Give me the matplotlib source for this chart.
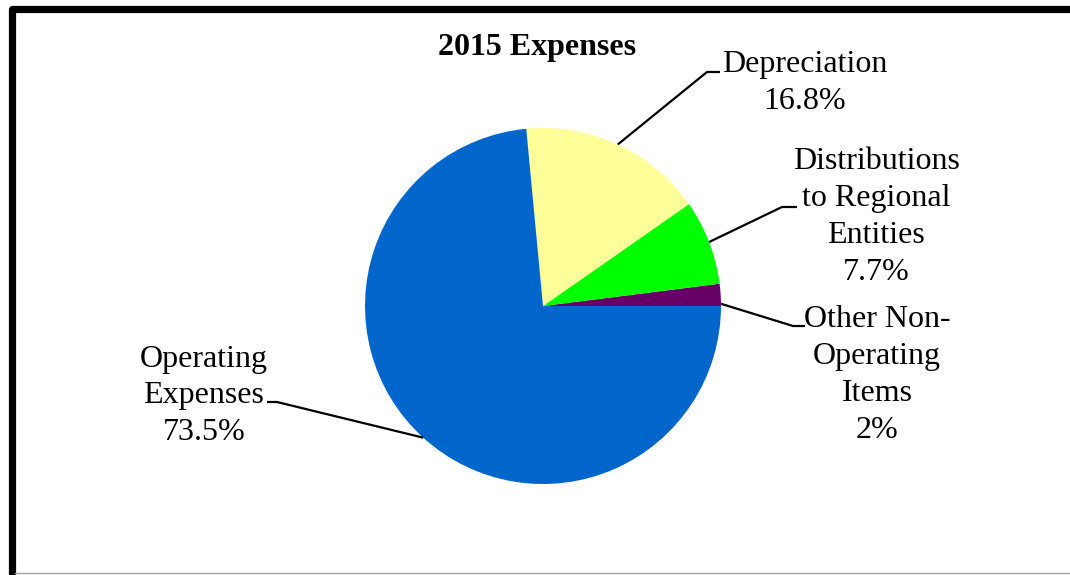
import numpy as np
import matplotlib
matplotlib.use("Agg")
import matplotlib.pyplot as plt

# data
categories = ["Other Non-\nOperating\nItems", "Distributions\nto Regional\nEntities",
              "Depreciation", "Operating\nExpenses"]
values = [2.0, 7.7, 16.8, 73.5]
pct_labels = ["2%", "7.7%", "16.8%", "73.5%"]
colors = ["#660066", "#00FF00", "#FFFF99", "#0066CC"]

W, H = 1070, 575
plt.rcParams["font.family"] = ["Liberation Serif", "DejaVu Serif"]

fig = plt.figure(figsize=(W / 100, H / 100), dpi=100)
ax = fig.add_axes([0, 0, 1, 1])


def py(y):
    # pixel row (from top) to data y
    return H - y


center = (543, py(306))
radius = 178
wedges, _ = ax.pie(values, colors=colors, startangle=0, counterclock=True,
                   center=center, radius=radius, frame=True,
                   wedgeprops=dict(linewidth=0))
ax.set_xlim(0, W)
ax.set_ylim(0, H)
ax.set_aspect("equal")
ax.axis("off")

# label text centre, elbow and end of leader line (pixels from top-left)
label_pos = [(877, 375), (876, 217), (805, 83), (204, 396)]
elbows = [((793, 326), (805, 326)), ((782, 207), (797, 207)),
          ((707, 72), (720, 72)), ((277, 402), (267, 402))]
# where on the rim the leader starts, as a fraction across the wedge
rim_frac = [0.1, 0.5, 0.5, 0.5]

for w, cat, pct, (lx, ly), (e1, e2), f in zip(wedges, categories, pct_labels,
                                                label_pos, elbows, rim_frac):
    mid = np.deg2rad(w.theta1 + f * (w.theta2 - w.theta1))
    sx = center[0] + radius * np.cos(mid)
    sy = center[1] + radius * np.sin(mid)
    ax.plot([sx, e1[0], e2[0]], [sy, py(e1[1]), py(e2[1])],
            color="black", lw=1.6, solid_capstyle="butt")
    ax.text(lx, py(ly), cat + "\n" + pct, ha="center", va="center",
            fontsize=23, linespacing=1.36, color="black")

ax.text(537, py(47), "2015 Expenses", ha="center", va="center",
        fontsize=23, fontweight="bold", color="black")

# outer frame
ax.plot([11.5, 11.5, W + 10], [-10, py(8.5), py(8.5)], color="black",
        lw=5.2, solid_joinstyle="round", clip_on=False)
ax.plot([15, W], [py(573), py(573)], color="#A0A0A0", lw=1.0)

fig.savefig("out.png", dpi=100, facecolor="white")
